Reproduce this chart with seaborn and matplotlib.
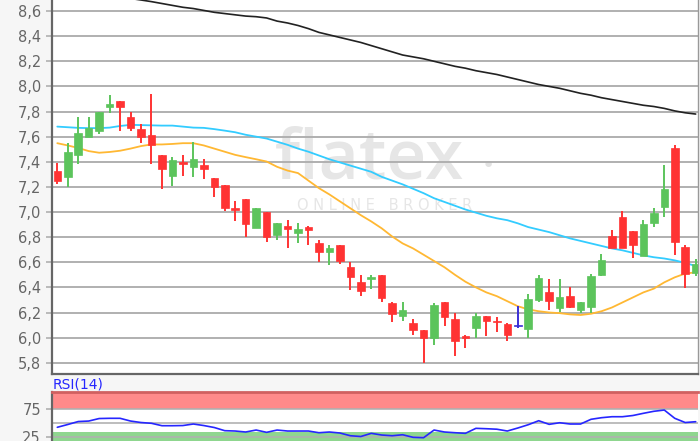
import numpy as np
import pandas as pd
import matplotlib
matplotlib.use("Agg")
import matplotlib.pyplot as plt
import seaborn as sns

# ---- data ----
opens = [7.33, 7.275, 7.45, 7.60, 7.645, 7.84, 7.88, 7.755, 7.66, 7.61,
         7.455, 7.29, 7.40, 7.357, 7.376, 7.27, 7.217, 7.03, 7.10, 6.87,
         7.00, 6.818, 6.885, 6.83, 6.884, 6.75, 6.685, 6.74, 6.566, 6.44,
         6.47, 6.50, 6.276, 6.17, 6.117, 6.064, 6.00, 6.28, 6.149, 6.01,
         6.074, 6.17, 6.13, 6.109, 6.10, 6.07, 6.303, 6.367, 6.233, 6.335,
         6.221, 6.241, 6.50, 6.813, 6.96, 6.845, 6.653, 6.914, 7.038, 7.508,
         6.72, 6.516]
closes = [7.25, 7.476, 7.63, 7.67, 7.80, 7.857, 7.84, 7.67, 7.60, 7.535,
          7.345, 7.415, 7.38, 7.424, 7.344, 7.20, 7.03, 7.02, 6.905, 7.03,
          6.805, 6.91, 6.866, 6.866, 6.86, 6.685, 6.71, 6.614, 6.48, 6.375,
          6.48, 6.313, 6.19, 6.223, 6.064, 6.00, 6.263, 6.162, 5.97, 6.00,
          6.17, 6.13, 6.122, 6.024, 6.10, 6.308, 6.472, 6.295, 6.327, 6.247,
          6.281, 6.494, 6.62, 6.715, 6.715, 6.739, 6.906, 6.994, 7.185, 6.76,
          6.508, 6.587]
highs = [7.39, 7.55, 7.755, 7.76, 7.80, 7.93, 7.88, 7.80, 7.70, 7.94,
         7.455, 7.44, 7.455, 7.56, 7.424, 7.27, 7.217, 7.085, 7.10, 7.03,
         7.00, 6.91, 6.94, 6.91, 6.885, 6.78, 6.74, 6.74, 6.605, 6.50,
         6.50, 6.50, 6.287, 6.287, 6.15, 6.064, 6.276, 6.28, 6.194, 6.02,
         6.194, 6.17, 6.162, 6.117, 6.25, 6.348, 6.50, 6.47, 6.47, 6.40,
         6.281, 6.508, 6.667, 6.853, 7.006, 6.845, 6.938, 7.03, 7.376, 7.53,
         6.74, 6.627]
lows = [7.22, 7.20, 7.385, 7.595, 7.62, 7.79, 7.645, 7.645, 7.55, 7.38,
        7.18, 7.21, 7.29, 7.28, 7.26, 7.12, 7.01, 6.93, 6.80, 6.87,
        6.765, 6.78, 6.71, 6.75, 6.74, 6.60, 6.58, 6.59, 6.38, 6.335,
        6.39, 6.28, 6.127, 6.135, 6.02, 5.80, 5.94, 6.09, 5.857, 5.92,
        6.00, 6.016, 6.042, 5.97, 6.074, 6.00, 6.28, 6.223, 6.207, 6.233,
        6.20, 6.20, 6.488, 6.715, 6.715, 6.632, 6.648, 6.88, 6.964, 6.66,
        6.396, 6.494]

ma_long = [np.nan] * 7 + [
    8.70, 8.688, 8.675, 8.66, 8.645, 8.63, 8.62, 8.605, 8.59, 8.58,
    8.57, 8.56, 8.555, 8.545, 8.52, 8.505, 8.485, 8.46, 8.43, 8.41,
    8.39, 8.37, 8.35, 8.325, 8.30, 8.275, 8.25, 8.235, 8.22, 8.20,
    8.18, 8.16, 8.145, 8.125, 8.11, 8.095, 8.075, 8.055, 8.035, 8.015,
    8.00, 7.985, 7.965, 7.945, 7.93, 7.91, 7.895, 7.88, 7.865, 7.85,
    7.84, 7.825, 7.805, 7.79, 7.78]
ma_mid = [7.68, 7.675, 7.67, 7.668, 7.668, 7.672, 7.685, 7.694, 7.692, 7.69,
          7.688, 7.688, 7.68, 7.672, 7.67, 7.66, 7.648, 7.635, 7.615, 7.60,
          7.585, 7.56, 7.535, 7.505, 7.48, 7.45, 7.42, 7.395, 7.37, 7.345,
          7.32, 7.28, 7.25, 7.22, 7.185, 7.15, 7.11, 7.08, 7.05, 7.02,
          6.995, 6.97, 6.95, 6.935, 6.91, 6.88, 6.86, 6.84, 6.815, 6.79,
          6.77, 6.75, 6.73, 6.71, 6.695, 6.675, 6.655, 6.64, 6.63, 6.615,
          6.595, 6.57]
ma_short = [7.548, 7.53, 7.51, 7.485, 7.472, 7.478, 7.488, 7.505, 7.525, 7.538,
            7.538, 7.542, 7.548, 7.548, 7.53, 7.505, 7.48, 7.455, 7.437, 7.42,
            7.402, 7.36, 7.33, 7.31, 7.25, 7.19, 7.14, 7.085, 7.03, 6.975,
            6.925, 6.87, 6.805, 6.75, 6.71, 6.66, 6.61, 6.56, 6.50, 6.445,
            6.40, 6.36, 6.33, 6.29, 6.25, 6.225, 6.21, 6.20, 6.195, 6.185,
            6.18, 6.19, 6.21, 6.24, 6.28, 6.32, 6.36, 6.39, 6.44, 6.48,
            6.51, 6.52]
rsi = [42.2, 47.3, 52.7, 53.6, 58.2, 58.6, 58.6, 53.6, 50.9, 49.5,
       45.1, 45.1, 45.4, 48.2, 45.4, 41.8, 36.0, 35.4, 33.6, 37.2,
       33.0, 37.2, 35.4, 35.4, 35.4, 32.3, 33.6, 31.8, 26.8, 25.4,
       31.2, 28.1, 26.8, 28.6, 23.9, 23.2, 37.2, 33.6, 32.3, 31.2,
       40.3, 39.6, 38.7, 35.4, 40.9, 46.9, 54.2, 47.6, 50.5, 48.2,
       48.2, 56.8, 59.7, 61.5, 61.5, 63.7, 67.7, 71.4, 73.7, 58.6,
       50.9, 52.4]

price_ticks = [5.8, 6.0, 6.2, 6.4, 6.6, 6.8, 7.0, 7.2, 7.4, 7.6, 7.8, 8.0, 8.2, 8.4, 8.6]
rsi_ticks = [25, 75]

# ---- styling ----
sns.set_style("white")
plt.rcParams['font.family'] = ['DejaVu Sans']

UP = "#5cc45c"
DOWN = "#ff3333"
FLAT = "#3b2fd6"
GRID = "#b0b0b0"
SPINE = "#666666"
TXT = "#666666"

fig = plt.figure(figsize=(7.0, 4.41), dpi=100, facecolor="#f6f6f6")
ax = fig.add_axes([52 / 700, 1 - 374.3 / 441, (698.3 - 52) / 700, 374.3 / 441])
axr = fig.add_axes([52 / 700, 0.0, (698.3 - 52) / 700, 1 - 392 / 441])
ax.set_facecolor("white")
axr.set_facecolor("white")

n = len(opens)
idx = np.arange(n)
df = pd.DataFrame({"i": idx, "open": opens, "close": closes, "high": highs,
                   "low": lows, "ma_long": ma_long, "ma_mid": ma_mid,
                   "ma_short": ma_short, "rsi": rsi})

# watermark
ax.text(0.4905, 0.57, "flatex", transform=ax.transAxes, ha="center", va="center",
        fontsize=50, color="#e6e6e6", family="Open Sans", fontweight="semibold",
        zorder=0)
ax.text(0.675, 0.556, "\u2022", transform=ax.transAxes, ha="center", va="center",
        fontsize=16, color="#e2e2e2", zorder=0)
ax.text(0.514, 0.452, "O N L I N E   B R O K E R", transform=ax.transAxes,
        ha="center", va="center", fontsize=10.5, color="#e6e6e6", zorder=0)

# grid
for t in price_ticks:
    ax.axhline(t, color=GRID, lw=1.4, zorder=1)

# moving averages
sns.lineplot(data=df, x="i", y="ma_long", ax=ax, color="#222222", lw=1.2, zorder=3)
sns.lineplot(data=df, x="i", y="ma_mid", ax=ax, color="#33ccff", lw=1.3, zorder=3)
sns.lineplot(data=df, x="i", y="ma_short", ax=ax, color="#ffb833", lw=1.3, zorder=3)

# candles
for i in range(n):
    o, c, h, l = opens[i], closes[i], highs[i], lows[i]
    col = UP if c > o else (DOWN if c < o else FLAT)
    ax.vlines(i, l, h, color=col, lw=1.4, zorder=4)
    body = max(abs(c - o), 0.008)
    ax.bar(i, body, bottom=min(o, c) if c != o else o - 0.004, width=0.72,
           color=col, edgecolor=col, lw=0.5, zorder=5)

ax.set_xlim(-0.506, 61.25)
ax.set_ylim(5.708, 8.688)
ax.set_yticks(price_ticks)
ax.set_yticklabels([f"{t:.1f}".replace(".", ",") for t in price_ticks])
ax.set_xticks([])
ax.set_xlabel("")
ax.set_ylabel("")
ax.tick_params(axis="y", length=4, width=1.2, color=GRID, labelsize=10.5,
               labelcolor=TXT, pad=4, left=True)
for s in ["left", "bottom"]:
    ax.spines[s].set_color(SPINE)
    ax.spines[s].set_linewidth(1.6)
ax.spines["right"].set_color("#999999")
ax.spines["right"].set_linewidth(1.0)
ax.spines["top"].set_visible(False)

# RSI panel
rlo, rhi = 17.2, 106.6
axr.axhspan(75, rhi, color="#ff8a8a", lw=0, zorder=0)
axr.axhspan(rlo, 33.6, color="#8fd68f", lw=0, zorder=0)
for t in [25, 50, 75]:
    axr.axhline(t, color=GRID, lw=1.3, alpha=0.9, zorder=1)
sns.lineplot(data=df, x="i", y="rsi", ax=axr, color="#2626ff", lw=1.2, zorder=3)
axr.set_xlim(-0.506, 61.25)
axr.set_ylim(rlo, rhi)
axr.set_yticks(rsi_ticks)
axr.set_yticklabels([str(t) for t in rsi_ticks])
axr.set_xticks([])
axr.set_xlabel("")
axr.set_ylabel("")
axr.tick_params(axis="y", length=4, width=1.2, color=GRID, labelsize=10.5,
                labelcolor=TXT, pad=4, left=True)
axr.spines["left"].set_color(SPINE)
axr.spines["left"].set_linewidth(1.6)
axr.spines["top"].set_color("#d06060")
axr.spines["top"].set_linewidth(2.0)
axr.spines["right"].set_visible(False)
axr.spines["bottom"].set_visible(False)
fig.text(53 / 700, 1 - 385 / 441, "RSI(14)", color="#2626ff", fontsize=10,
         ha="left", va="center")

fig.savefig("out.png", dpi=100, facecolor=fig.get_facecolor())
